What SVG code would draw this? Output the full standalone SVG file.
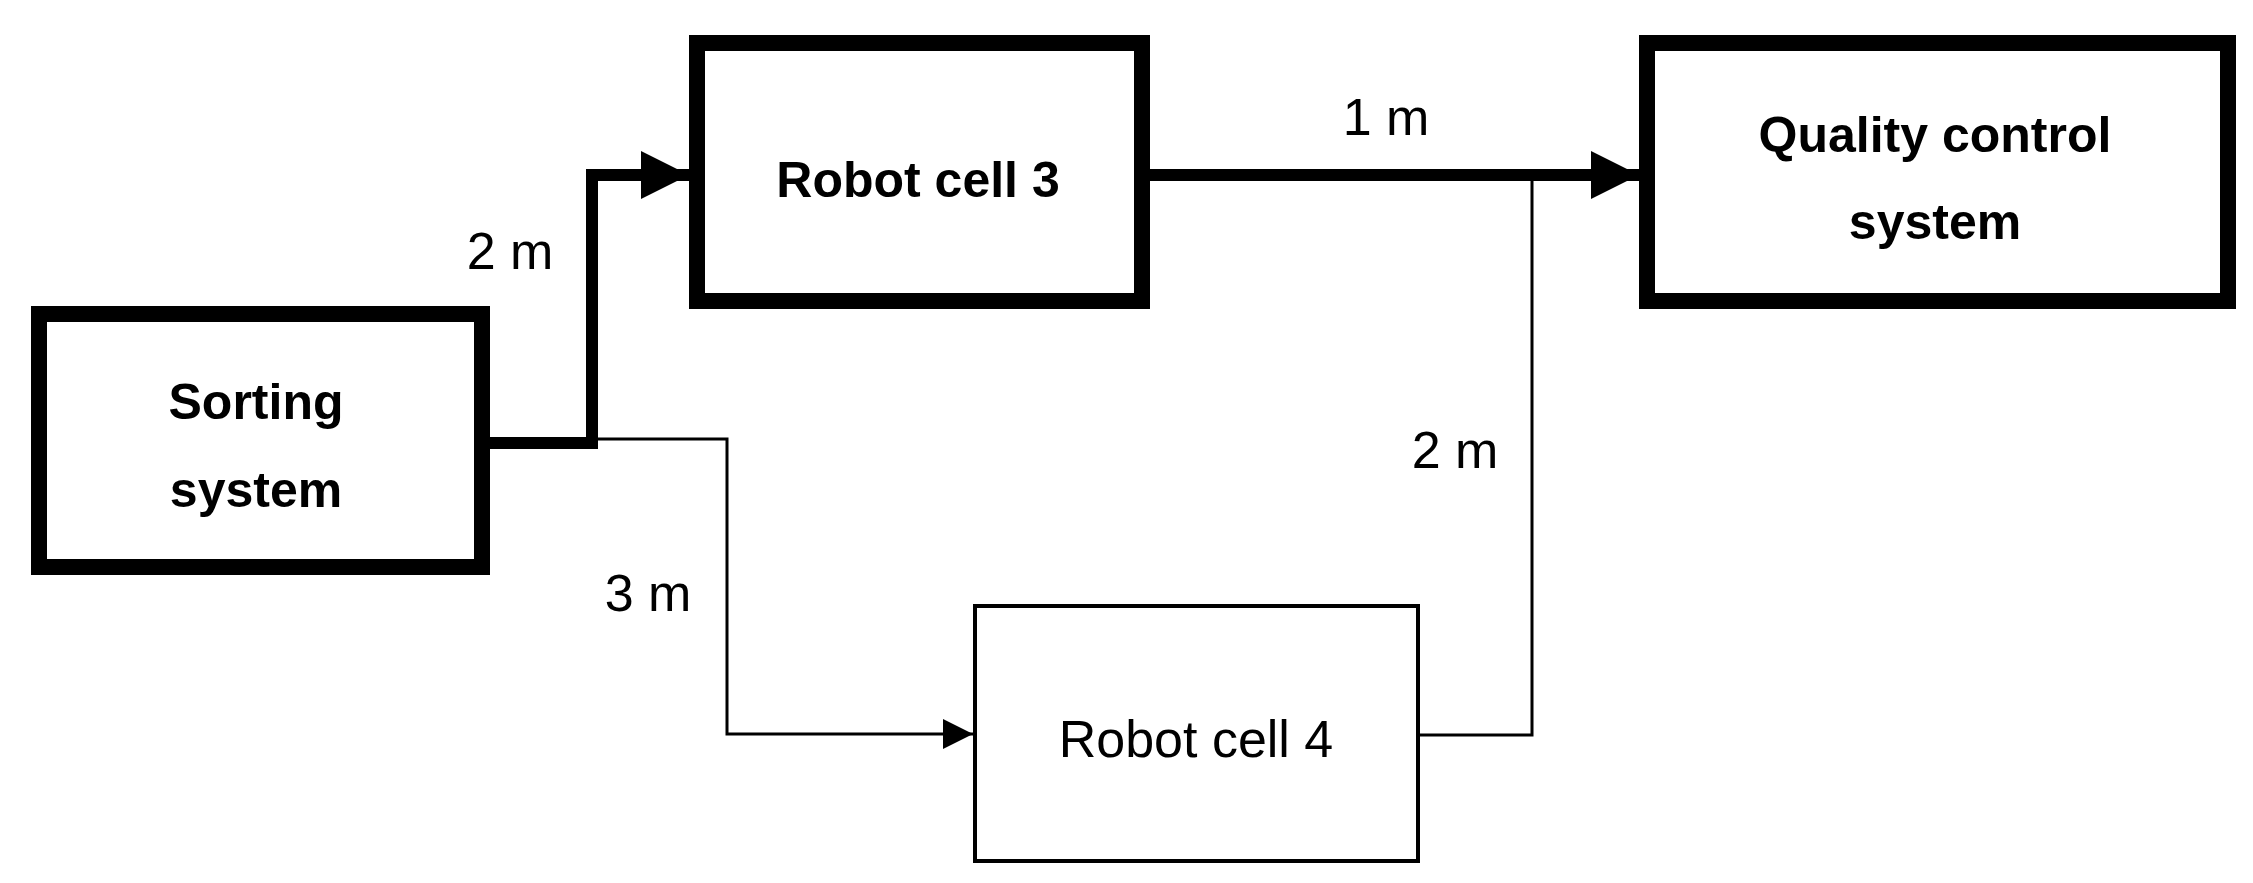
<svg xmlns="http://www.w3.org/2000/svg" width="2253" height="883" viewBox="0 0 2253 883">
<style>
.thick{fill:#fff;stroke:#000;stroke-width:16}
.thin{fill:#fff;stroke:#000;stroke-width:4}
.b{font-family:"Liberation Sans",Arial,sans-serif;font-weight:bold;font-size:50px;text-anchor:middle}
.r{font-family:"Liberation Sans",Arial,sans-serif;font-size:52px;text-anchor:middle}
.c1{fill:none;stroke:#000;stroke-width:12}
.c2{fill:none;stroke:#000;stroke-width:3}
</style>
<defs>
<marker id="a" markerWidth="4" markerHeight="4" refX="4" refY="2" orient="auto" markerUnits="strokeWidth"><path d="M0,0L4,2L0,4z"/></marker>
<marker id="a2" markerWidth="10" markerHeight="10" refX="10" refY="5" orient="auto" markerUnits="strokeWidth"><path d="M0,0L10,5L0,10z"/></marker>
</defs>
<g id="connectors">
<path class="c1" d="M490,443H592V175H689" marker-end="url(#a)"/>
<path class="c1" d="M1150,175H1639" marker-end="url(#a)"/>
<path class="c2" d="M592,439H727V734H973" marker-end="url(#a2)"/>
<path class="c2" d="M1420,735H1532V177"/>
<text class="r" x="510" y="269">2 m</text>
<text class="r" x="648" y="611">3 m</text>
<text class="r" x="1386" y="135">1 m</text>
<text class="r" x="1455" y="468">2 m</text>
</g>
<g id="sorting"><rect class="thick" x="39" y="314" width="443" height="253"/>
<text class="b" x="256" y="419">Sorting</text><text class="b" x="256" y="507">system</text></g>
<g id="robot3"><rect class="thick" x="697" y="43" width="445" height="258"/>
<text class="b" x="918" y="197">Robot cell 3</text></g>
<g id="quality"><rect class="thick" x="1647" y="43" width="581" height="258"/>
<text class="b" x="1935" y="152">Quality control</text><text class="b" x="1935" y="239">system</text></g>
<g id="robot4"><rect class="thin" x="975" y="606" width="443" height="255"/>
<text class="r" x="1196" y="757">Robot cell 4</text></g>
</svg>
